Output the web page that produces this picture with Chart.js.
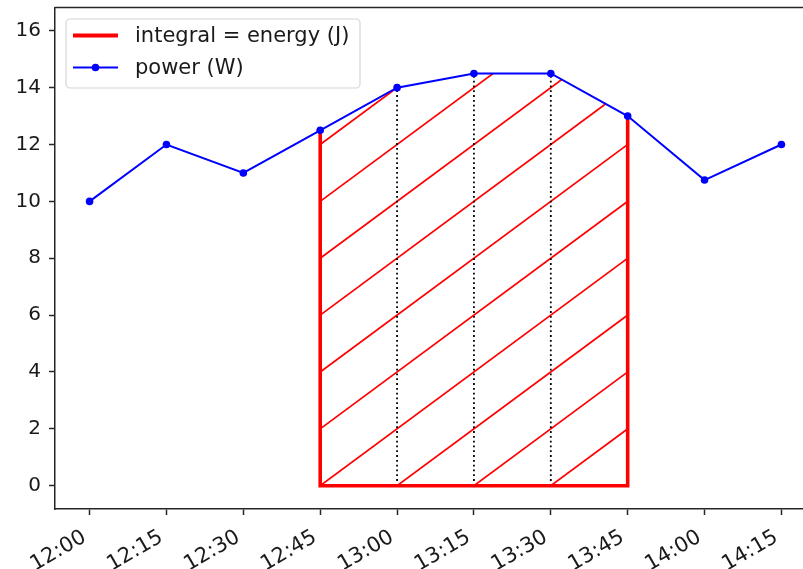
<!DOCTYPE html>
<html>
<head>
<meta charset="utf-8">
<script src="https://cdn.jsdelivr.net/npm/chart.js@4"></script>
<style>
  html, body { margin: 0; padding: 0; background: #fff; width: 803px; height: 569px; overflow: hidden; }
  canvas { display: block; }
</style>
</head>
<body>
<canvas id="c" width="820" height="569"></canvas>
<script>
// Sample times and measured power
const times = ['12:00', '12:15', '12:30', '12:45', '13:00', '13:15', '13:30', '13:45', '14:00', '14:15'];
const power = [10, 12, 11, 12.5, 14, 14.5, 14.5, 13, 10.75, 12];
const yTicks = [0, 2, 4, 6, 8, 10, 12, 14, 16];

// Integration interval
const integralFrom = '12:45';
const integralTo = '13:45';

const FONT = 'DejaVu Sans';
const INK = '#262626';

const i0 = times.indexOf(integralFrom);
const i1 = times.indexOf(integralTo);

const powerPoints = power.map((v, i) => ({ x: i, y: v }));

// Outline of the integrated area: left side, base, right side
const outline = [
  { x: i0, y: power[i0] },
  { x: i0, y: 0 },
  { x: i1, y: 0 },
  { x: i1, y: power[i1] }
];

// Dotted separators at the interior samples
const separators = [];
for (let i = i0 + 1; i < i1; i++) {
  separators.push({
    type: 'line',
    label: '',
    data: [{ x: i, y: 0 }, { x: i, y: power[i] }],
    borderColor: '#000',
    borderWidth: 1.8,
    borderDash: [1.8, 3],
    pointRadius: 0,
    hideInLegend: true
  });
}

// Diagonal hatching under the power curve, clipped to the integrated area
const hatchPlugin = {
  id: 'hatch',
  beforeDatasetsDraw(chart) {
    const { ctx, chartArea, scales: { x, y } } = chart;
    ctx.save();
    ctx.beginPath();
    ctx.rect(chartArea.left, chartArea.top, chartArea.right - chartArea.left, chartArea.bottom - chartArea.top);
    ctx.clip();
    ctx.beginPath();
    ctx.moveTo(x.getPixelForValue(i0), y.getPixelForValue(0));
    for (let i = i0; i <= i1; i++) {
      ctx.lineTo(x.getPixelForValue(i), y.getPixelForValue(power[i]));
    }
    ctx.lineTo(x.getPixelForValue(i1), y.getPixelForValue(0));
    ctx.closePath();
    ctx.clip();
    ctx.strokeStyle = '#ff0000';
    ctx.lineWidth = 1.7;
    const rise = 2; // W gained per sample step along each hatch line
    for (let k = i0 - 10; k <= i1; k++) {
      ctx.beginPath();
      ctx.moveTo(x.getPixelForValue(k), y.getPixelForValue(0));
      ctx.lineTo(x.getPixelForValue(k + 10), y.getPixelForValue(rise * 10));
      ctx.stroke();
    }
    ctx.restore();
  }
};

// Frame around the plot and the legend box in the upper left
const framePlugin = {
  id: 'frame',
  afterDraw(chart) {
    const { ctx, chartArea } = chart;
    ctx.save();
    ctx.strokeStyle = INK;
    ctx.lineWidth = 1.5;
    ctx.beginPath();
    ctx.moveTo(chartArea.left, chartArea.top);
    ctx.lineTo(chartArea.right, chartArea.top);
    ctx.lineTo(chartArea.right, chartArea.bottom);
    ctx.stroke();

    // legend
    const bx = 66, by = 19, bw = 294, bh = 69;
    ctx.beginPath();
    ctx.roundRect(bx, by, bw, bh, 4);
    ctx.fillStyle = 'rgba(255,255,255,0.8)';
    ctx.fill();
    ctx.strokeStyle = '#d6d6d6';
    ctx.lineWidth = 1.2;
    ctx.stroke();

    const entries = chart.data.datasets
      .filter(d => !d.hideInLegend)
      .sort((a, b) => a.legendRow - b.legendRow);
    const rows = [35.5, 67.5];
    entries.forEach((d, n) => {
      const ry = rows[n];
      ctx.strokeStyle = d.borderColor;
      ctx.lineWidth = d.legendWidth;
      ctx.beginPath();
      ctx.moveTo(73, ry);
      ctx.lineTo(118, ry);
      ctx.stroke();
      if (d.pointRadius > 0) {
        ctx.fillStyle = d.borderColor;
        ctx.beginPath();
        ctx.arc(95.5, ry, d.pointRadius, 0, Math.PI * 2);
        ctx.fill();
      }
      ctx.fillStyle = '#1a1a1a';
      ctx.font = '21px "' + FONT + '"';
      ctx.textBaseline = 'middle';
      ctx.textAlign = 'left';
      ctx.fillText(d.label, 135, ry + 1);
    });
    ctx.restore();
  }
};

new Chart(document.getElementById('c'), {
  type: 'line',
  data: {
    datasets: [
      {
        label: 'power (W)',
        legendRow: 1,
        data: powerPoints,
        borderColor: '#0000ff',
        backgroundColor: '#0000ff',
        borderWidth: 2,
        legendWidth: 2,
        pointRadius: 3.8,
        pointBackgroundColor: '#0000ff',
        pointBorderWidth: 0,
        tension: 0
      },
      {
        label: 'integral = energy (J)',
        legendRow: 0,
        data: outline,
        borderColor: '#ff0000',
        borderWidth: 3.6,
        legendWidth: 4,
        borderCapStyle: 'square',
        borderJoinStyle: 'miter',
        pointRadius: 0,
        tension: 0
      },
      ...separators
    ]
  },
  options: {
    responsive: false,
    animation: false,
    events: [],
    layout: { padding: { top: 7.5, right: 4, left: 0, bottom: 0 } },
    plugins: { legend: { display: false }, tooltip: { enabled: false } },
    scales: {
      x: {
        type: 'linear',
        min: -0.45,
        max: times.length - 1 + 0.45,
        afterBuildTicks(s) { s.ticks = times.map((t, i) => ({ value: i })); },
        afterFit(s) { s.height = 60; s.paddingLeft = 0; s.paddingRight = 0; },
        ticks: {
          autoSkip: false,
          minRotation: 30,
          maxRotation: 30,
          padding: 10,
          labelOffset: -5,
          color: '#1a1a1a',
          font: { family: FONT, size: 21 },
          callback: (v) => times[v]
        },
        grid: { drawOnChartArea: false, drawTicks: true, tickLength: 6, tickWidth: 1.5, tickColor: INK },
        border: { display: true, color: INK, width: 1.5 }
      },
      y: {
        type: 'linear',
        min: -0.82,
        max: 16.82,
        afterBuildTicks(s) { s.ticks = yTicks.map(v => ({ value: v })); },
        afterFit(s) { s.width = 55; s.paddingTop = 0; s.paddingBottom = 0; },
        ticks: {
          padding: 8,
          color: '#1a1a1a',
          font: { family: FONT, size: 20 },
          callback: (v) => String(v)
        },
        grid: { drawOnChartArea: false, drawTicks: true, tickLength: 6, tickWidth: 1.5, tickColor: INK },
        border: { display: true, color: INK, width: 1.5 }
      }
    }
  },
  plugins: [hatchPlugin, framePlugin]
});
</script>
</body>
</html>
